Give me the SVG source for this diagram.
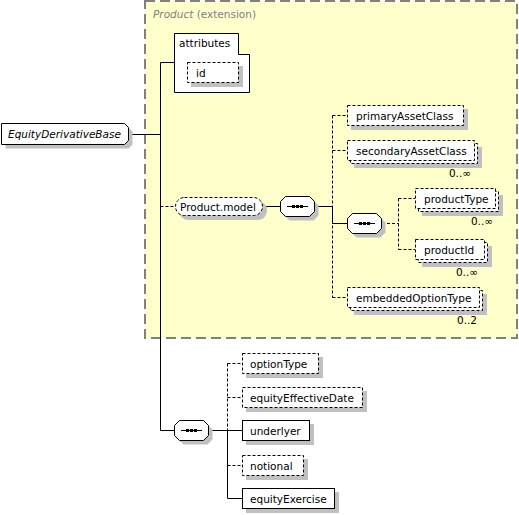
<svg xmlns="http://www.w3.org/2000/svg" width="519" height="515" viewBox="0 0 519 515">
<style>
.t{font-family:"DejaVu Sans",Verdana,sans-serif;font-size:10.5px;fill:#000}
.it{font-style:italic}
.gr{fill:#808080}
.box{fill:#fff;stroke:#000;stroke-width:1}
.opt{stroke-dasharray:3,2}
.sh{fill:#c0c0c0;stroke:none}
.ln{fill:none;stroke:#000;stroke-width:1}
.dl{stroke-dasharray:3,2}
.ext{fill:#ffffcc;stroke:#808080;stroke-width:2;stroke-dasharray:10,5}
</style>
<defs>
<g id="seq">
<path class="sh" d="M9.5,4.5 H33.5 L38.5,9.5 V19.5 L33.5,24.5 H9.5 L4.5,19.5 V9.5 Z"/>
<path class="box" d="M5.5,0.5 H29.5 L34.5,5.5 V15.5 L29.5,20.5 H5.5 L0.5,15.5 V5.5 Z"/>
<path class="ln" d="M7,10.5 H28"/>
<rect x="12" y="9" width="3" height="3" fill="#000"/>
<rect x="16" y="9" width="3" height="3" fill="#000"/>
<rect x="20" y="9" width="3" height="3" fill="#000"/>
</g>
</defs>

<rect id="product-extension" class="ext" x="145" y="1" width="372" height="337"/>
<text class="t gr" x="153" y="18"><tspan class="it">Product</tspan> (extension)</text>

<g id="connectors">
<path class="ln" d="M128,134.5 H160.5"/>
<path class="ln" d="M160.5,62.5 V430.5 H174"/>
<path class="ln" d="M160.5,62.5 H174"/>
<path class="ln dl" d="M160.5,206.5 H175"/>
<path class="ln" d="M263,206.5 H280"/>
<path class="ln" d="M314,206.5 H332.5 V223.5 H347"/>
<path class="ln dl" d="M332.5,115.5 V297.5"/>
<path class="ln dl" d="M332.5,115.5 H347 M332.5,150.5 H347 M332.5,297.5 H347"/>
<path class="ln dl" d="M382,223.5 H398.5 M398.5,198.5 V249.5 M398.5,198.5 H415 M398.5,249.5 H415"/>
<path class="ln" d="M209,430.5 H227.5 V498.5 H242 M227.5,430.5 H242"/>
<path class="ln dl" d="M227.5,363.5 V430.5 M227.5,363.5 H242 M227.5,397.5 H242 M227.5,465.5 H242"/>
</g>

<g id="EquityDerivativeBase">
<path class="sh" d="M5.5,127.5 H128.5 L132.5,131.5 V144.5 L128.5,148.5 H5.5 Z"/>
<path class="box" d="M1.5,123.5 H124.5 L128.5,127.5 V140.5 L124.5,144.5 H1.5 Z"/>
<text class="t it" x="8" y="138">EquityDerivativeBase</text>
</g>

<g id="attributes">
<path class="box" d="M174.5,33.5 H238.5 V54.5 H249.5 V92.5 H174.5 Z"/>
<text class="t" x="179" y="47">attributes</text>
</g>

<g id="id">
<rect class="sh" x="191" y="66" width="52" height="21"/>
<rect class="box opt" x="187.5" y="62.5" width="51" height="20"/>
<text class="t" x="196" y="76.5">id</text>
</g>

<g id="Product.model">
<rect class="sh" x="179" y="201" width="88" height="19" rx="9"/>
<rect class="box opt" x="175.5" y="197.5" width="87" height="18" rx="9"/>
<text class="t" x="180" y="210.5">Product.model</text>
</g>

<g id="seq1"><use href="#seq" x="280" y="196"/></g>
<g id="seq2"><use href="#seq" x="347" y="213"/></g>
<g id="seq3"><use href="#seq" x="174" y="420"/></g>

<g id="primaryAssetClass">
<rect class="sh" x="351" y="109" width="117" height="21"/>
<rect class="box opt" x="347.5" y="105.5" width="116" height="20"/>
<text class="t" x="356" y="119.5">primaryAssetClass</text>
</g>

<g id="secondaryAssetClass">
<rect class="sh" x="354" y="147" width="128" height="21"/>
<rect class="box opt" x="350.5" y="143.5" width="127" height="20"/>
<rect class="box opt" x="347.5" y="140.5" width="127" height="20"/>
<text class="t" x="356" y="154.5">secondaryAssetClass</text>
<text class="t" x="471" y="177" text-anchor="end">0..∞</text>
</g>

<g id="productType">
<rect class="sh" x="422" y="195" width="81" height="21"/>
<rect class="box opt" x="418.5" y="191.5" width="80" height="20"/>
<rect class="box opt" x="415.5" y="188.5" width="80" height="20"/>
<text class="t" x="424" y="202.5">productType</text>
<text class="t" x="493" y="225" text-anchor="end">0..∞</text>
</g>

<g id="productId">
<rect class="sh" x="422" y="246" width="70" height="21"/>
<rect class="box opt" x="418.5" y="242.5" width="69" height="20"/>
<rect class="box opt" x="415.5" y="239.5" width="69" height="20"/>
<text class="t" x="424" y="253.5">productId</text>
<text class="t" x="478" y="276" text-anchor="end">0..∞</text>
</g>

<g id="embeddedOptionType">
<rect class="sh" x="354" y="294" width="133" height="21"/>
<rect class="box opt" x="350.5" y="290.5" width="132" height="20"/>
<rect class="box opt" x="347.5" y="287.5" width="132" height="20"/>
<text class="t" x="356" y="301.5">embeddedOptionType</text>
<text class="t" x="477" y="324" text-anchor="end">0..2</text>
</g>

<g id="optionType">
<rect class="sh" x="246" y="357" width="77" height="21"/>
<rect class="box opt" x="242.5" y="353.5" width="76" height="20"/>
<text class="t" x="250" y="367.5">optionType</text>
</g>

<g id="equityEffectiveDate">
<rect class="sh" x="246" y="391" width="121" height="21"/>
<rect class="box opt" x="242.5" y="387.5" width="120" height="20"/>
<text class="t" x="250" y="401.5">equityEffectiveDate</text>
</g>

<g id="underlyer">
<rect class="sh" x="246" y="424" width="68" height="21"/>
<rect class="box" x="242.5" y="420.5" width="67" height="20"/>
<text class="t" x="250" y="434.5">underlyer</text>
</g>

<g id="notional">
<rect class="sh" x="246" y="459" width="62" height="21"/>
<rect class="box opt" x="242.5" y="455.5" width="61" height="20"/>
<text class="t" x="250" y="469.5">notional</text>
</g>

<g id="equityExercise">
<rect class="sh" x="246" y="492" width="93" height="21"/>
<rect class="box" x="242.5" y="488.5" width="92" height="20"/>
<text class="t" x="250" y="502.5">equityExercise</text>
</g>
</svg>
